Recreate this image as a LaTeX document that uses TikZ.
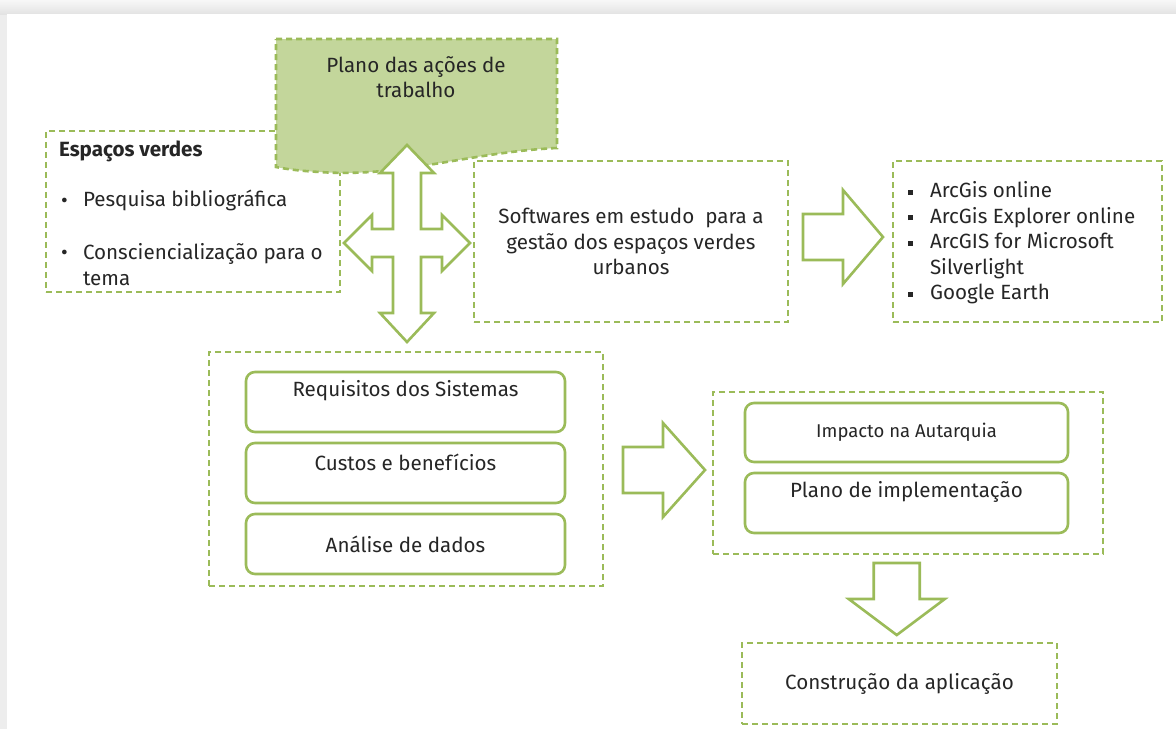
\documentclass[tikz,border=0pt]{standalone}
\usepackage{fontspec}
\setmainfont{Fira Sans}
\usetikzlibrary{positioning,calc}
\definecolor{leafgreen}{HTML}{9BBB59}
\definecolor{leaffill}{HTML}{C3D69B}
\newcommand{\mainsize}{\fontsize{20.6}{25.5}\selectfont}
\newcommand{\sqbul}{\rule[0.3ex]{5pt}{5pt}}

\begin{document}
\begin{tikzpicture}[x=1pt, y=-1pt,
    every node/.style={font=\mainsize, text=black!85, inner sep=0pt, outer sep=0pt},
    dashbox/.style={draw=leafgreen, line width=2.6pt, dash pattern=on 6pt off 4pt},
    roundbox/.style={draw=leafgreen, line width=2.6pt, rounded corners=9pt},
    blockarrow/.style={draw=leafgreen, line width=2.6pt, fill=white, line join=miter}]
    \useasboundingbox (0,0) rectangle (1176,729);
    % page frame
    \fill[black!7] (0,0) rectangle (1176,729);
    \shade[top color=black!3, bottom color=black!11] (0,0) rectangle (1176,14);
    \fill[white] (7,14) rectangle (1176,729);

    % green spaces
    \node[dashbox, minimum width=294pt, minimum height=161pt] (espacos) at (193,211.5) {};
    \node[anchor=west, font=\bfseries\mainsize] (evtitle) at (59,151) {Espaços verdes};
    \node[anchor=west] (bul1) at (61,203) {\textbullet};
    \node[anchor=west] (pesq) at (83,200) {Pesquisa bibliográfica};
    \node[anchor=west] (bul2) at (61,255) {\textbullet};
    \node[anchor=west, align=left] (consc) at (83,264.5) {Consciencialização para o\\tema};

    % plan of work (document shape)
    \draw[dashbox, fill=leaffill] (276,39) -- (557,39) -- (557,148)
        .. controls (470,152) and (400,178) .. (320,172)
        .. controls (300,171) and (286,169) .. (276,167) -- cycle;
    \node[align=center] (plano) at (416,77) {Plano das ações de\\trabalho};

    % four way arrow
    \coordinate (hub) at (407,243);
    \draw[blockarrow, shift={(hub)}] (0,-98) -- (27,-70) -- (14,-70) -- (14,-14) -- (35,-14) -- (35,-28)
        -- (63,0) -- (35,28) -- (35,14) -- (14,14) -- (14,70) -- (27,70) -- (0,99) -- (-27,70)
        -- (-14,70) -- (-14,14) -- (-35,14) -- (-35,28) -- (-63,0) -- (-35,-28) -- (-35,-14)
        -- (-14,-14) -- (-14,-70) -- (-27,-70) -- cycle;

    % software
    \node[dashbox, minimum width=314pt, minimum height=161pt, align=center] (soft) at (631,241.5)
        {Softwares em estudo\ \ para a\\gestão dos espaços verdes\\urbanos};
    \node[dashbox, minimum width=269pt, minimum height=161pt] (arcgis) at (1027.5,241.5) {};
    \node[anchor=west, align=left] (arclist) at (908,243)
        {\makebox[22pt][l]{\sqbul}ArcGis online\\
         \makebox[22pt][l]{\sqbul}ArcGis Explorer online\\
         \makebox[22pt][l]{\sqbul}ArcGIS for Microsoft\\
         \hspace*{22pt}Silverlight\\
         \makebox[22pt][l]{\sqbul}Google Earth};
    \draw[blockarrow, shift={($(soft.east)!0.5!(arcgis.west)+(2.5,-4.5)$)}]
        (-40,-23) -- (0,-23) -- (0,-47) -- (40,0) -- (0,47) -- (0,23) -- (-40,23) -- cycle;

    % analysis
    \node[dashbox, minimum width=394pt, minimum height=234pt] (bigbox) at (406,469) {};
    \node[roundbox, minimum width=319pt, minimum height=60pt,
        label={[anchor=center, yshift=-19pt]north:Requisitos dos Sistemas}] (req) at (405.5,402) {};
    \node[roundbox, minimum width=319pt, minimum height=60pt, below=11pt of req,
        label={[anchor=center, yshift=-19pt]north:Custos e benefícios}] (custos) {};
    \node[roundbox, minimum width=319pt, minimum height=60pt, below=11pt of custos] (analise) {Análise de dados};

    % impact
    \node[dashbox, minimum width=390pt, minimum height=162pt] (rbox) at (908,473) {};
    \node[roundbox, minimum width=323pt, minimum height=59pt, font=\fontsize{18.5}{22}\selectfont] (impacto) at (906.5,432.5) {Impacto na Autarquia};
    \node[roundbox, minimum width=323pt, minimum height=60pt, below=11pt of impacto,
        label={[anchor=center, yshift=-19pt]north:Plano de implementação}] (implem) {};
    \draw[blockarrow, shift={($(bigbox.east)!0.5!(rbox.west)+(5,-1)$)}]
        (-40,-23) -- (0,-23) -- (0,-47) -- (42,0) -- (0,47) -- (0,23) -- (-40,23) -- cycle;

    % application
    \node[dashbox, minimum width=315pt, minimum height=81pt] (constr) at (899.5,683.5) {Construção da aplicação};
    \draw[blockarrow, shift={($(rbox.south)!0.5!(constr.north)+(-7,0.5)$)}]
        (-23,-36) -- (23,-36) -- (23,0) -- (48,0) -- (0,36) -- (-48,0) -- (-23,0) -- cycle;
\end{tikzpicture}
\end{document}
